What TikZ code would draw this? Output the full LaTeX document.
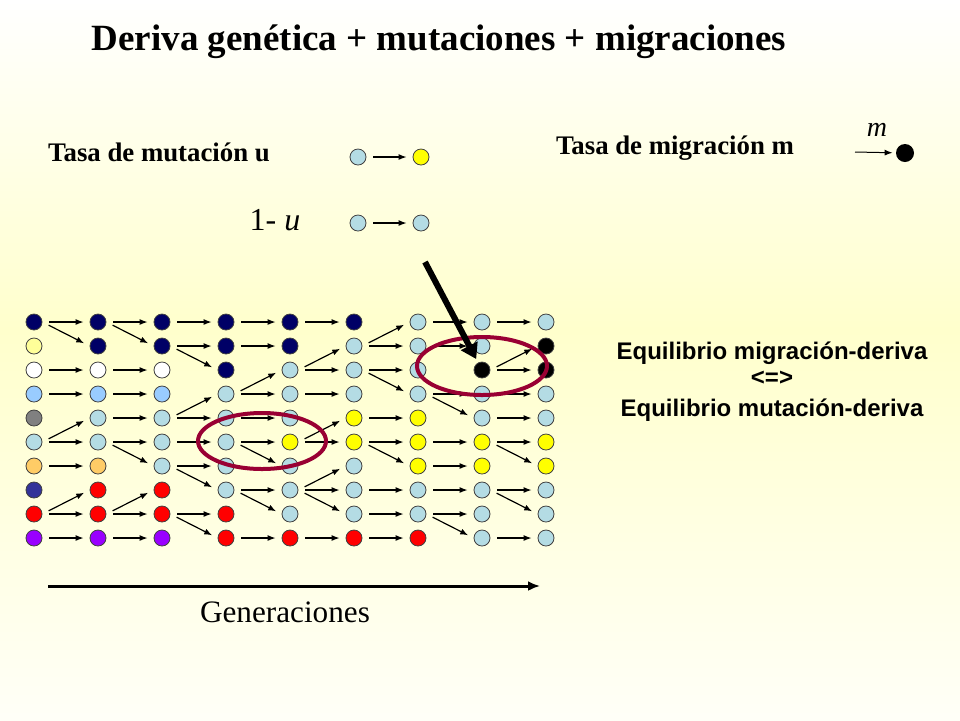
\documentclass[tikz,border=0pt]{standalone}
\usepackage{fontspec}
\setmainfont{Liberation Serif}
\setsansfont{Liberation Sans}
\usetikzlibrary{arrows.meta}

\definecolor{cNavy}{HTML}{000066}
\definecolor{cPale}{HTML}{FFFF99}
\definecolor{cSky}{HTML}{99CCFF}
\definecolor{cGray}{HTML}{808080}
\definecolor{cLb}{HTML}{B4DCE4}
\definecolor{cOrange}{HTML}{FFCC66}
\definecolor{cMblue}{HTML}{333399}
\definecolor{cRed}{HTML}{FF0000}
\definecolor{cPurple}{HTML}{9900FF}
\definecolor{cYel}{HTML}{FFFF00}
\definecolor{cRing}{HTML}{990033}
\definecolor{bgYel}{HTML}{FFFFCC}

\tikzset{
  dot/.style={circle, draw=black!75, line width=0.4pt, minimum size=8pt, inner sep=0pt, fill=#1},
  arr/.style={-{Latex[length=4pt,width=3pt]}, line width=0.6pt, shorten <=3.5pt, shorten >=3pt},
  bigarr/.style={-{Triangle[length=7.5pt,width=9pt]}, line width=3pt, shorten >=2pt},
  genarr/.style={-{Latex[length=6pt,width=5pt]}, line width=1.5pt},
  ring/.style={draw=cRing, line width=2pt},
  lbl/.style={inner sep=0pt, font=\bfseries\fontsize{13.4}{15}\selectfont},
  eq/.style={inner sep=0pt, font=\sffamily\bfseries\fontsize{12}{14}\selectfont}
}

\begin{document}
\begin{tikzpicture}[x=0.5pt, y=-0.5pt]
\useasboundingbox (0,0) rectangle (960,720);
%--- background ---
\shade[top color=white, bottom color=bgYel] (0,0) rectangle (960,330);
\shade[top color=bgYel, bottom color=bgYel!15] (0,330) rectangle (960,720);

%--- title ---
\node[inner sep=0pt, font=\bfseries\fontsize{18.5}{22}\selectfont] (title) at (439,42) {Deriva genética + mutaciones + migraciones};

%--- mutation legend ---
\node[lbl] (tmut) at (159,152) {Tasa de mutación u};
\node[dot=cLb] (mutA) at (358,157) {};
\node[dot=cYel] (mutB) at (421,157) {};
\draw[arr] (mutA) -- (mutB);
\node[inner sep=0pt, font=\fontsize{16}{18}\selectfont] (keep) at (275,220) {1- \textit{u}};
\node[dot=cLb] (keepA) at (358,223) {};
\node[dot=cLb] (keepB) at (421,223) {};
\draw[arr] (keepA) -- (keepB);

%--- migration legend ---
\node[lbl] (tmig) at (675,148) {Tasa de migración m};
\node[circle, fill=black, minimum size=9pt, inner sep=0pt] (migdot) at (905,153) {};
\coordinate (migsrc) at (855,152);
\draw[-{Latex[length=4pt,width=3pt]}, line width=0.5pt, shorten >=1.5pt] (migsrc) -- (migdot);
\node[inner sep=0pt, font=\itshape\fontsize{14}{16}\selectfont] (mlbl) at (877,130) {m};

%--- population over generations ---
\foreach \k/\cols in {
  0/{cNavy,cPale,white,cSky,cGray,cLb,cOrange,cMblue,cRed,cPurple},
  1/{cNavy,cNavy,white,cSky,cLb,cLb,cOrange,cRed,cRed,cPurple},
  2/{cNavy,cNavy,white,cSky,cLb,cLb,cLb,cRed,cRed,cPurple},
  3/{cNavy,cNavy,cNavy,cLb,cLb,cLb,cLb,cLb,cRed,cRed},
  4/{cNavy,cNavy,cLb,cLb,cLb,cYel,cLb,cLb,cLb,cRed},
  5/{cNavy,cLb,cLb,cLb,cYel,cYel,cLb,cLb,cLb,cRed},
  6/{cLb,cLb,cLb,cLb,cYel,cYel,cYel,cLb,cLb,cRed},
  7/{cLb,cLb,black,cLb,cLb,cYel,cYel,cLb,cLb,cLb},
  8/{cLb,black,black,cLb,cLb,cYel,cYel,cLb,cLb,cLb}}
  \foreach \c [count=\r from 0] in \cols
    \node[dot=\c] (g\k-\r) at ({34+64*\k},{322+24*\r}) {};

% parent -> offspring
\foreach \k/\pairs [evaluate=\k as \n using int(\k+1)] in {
  0/{0/0,0/1,2/2,3/3,5/4,5/5,6/6,8/7,8/8,9/9},
  1/{0/0,0/1,2/2,3/3,4/4,5/5,5/6,8/7,8/8,9/9},
  2/{0/0,1/1,1/2,4/3,4/4,5/5,6/6,6/7,8/8,8/9},
  3/{0/0,1/1,3/2,3/3,4/4,5/5,5/6,7/7,7/8,9/9},
  4/{0/0,2/1,2/2,3/3,5/4,5/5,7/6,7/7,7/8,9/9},
  5/{1/0,1/1,2/2,2/3,4/4,5/5,5/6,7/7,8/8,9/9},
  6/{0/0,1/1,3/3,3/4,5/5,6/6,7/7,8/8,8/9},
  7/{0/0,2/1,2/2,3/3,4/4,5/5,5/6,7/7,7/8,9/9}}
  \foreach \s/\t in \pairs
    \draw[arr] (g\k-\s.east) -- (g\n-\t.west);

%--- rings and migrant arrow ---
\draw[ring] (262,441) ellipse [x radius=64, y radius=28];
\draw[ring] (482,366) ellipse [x radius=65, y radius=29];
\coordinate (bigsrc) at (425,262);
\draw[bigarr] (bigsrc) -- (g7-2);

%--- generations axis ---
\coordinate (genL) at (48,586);
\coordinate (genR) at (540,586);
\draw[genarr] (genL) -- (genR);
\node[inner sep=0pt, font=\fontsize{15.6}{18}\selectfont] (gen) at (285,612) {Generaciones};

%--- equilibrium text ---
\node[eq] (eq1) at (772,353) {Equilibrio migración-deriva};
\node[eq] (eq2) at (772,378) {<=>};
\node[eq] (eq3) at (772,410) {Equilibrio mutación-deriva};
\end{tikzpicture}
\end{document}
